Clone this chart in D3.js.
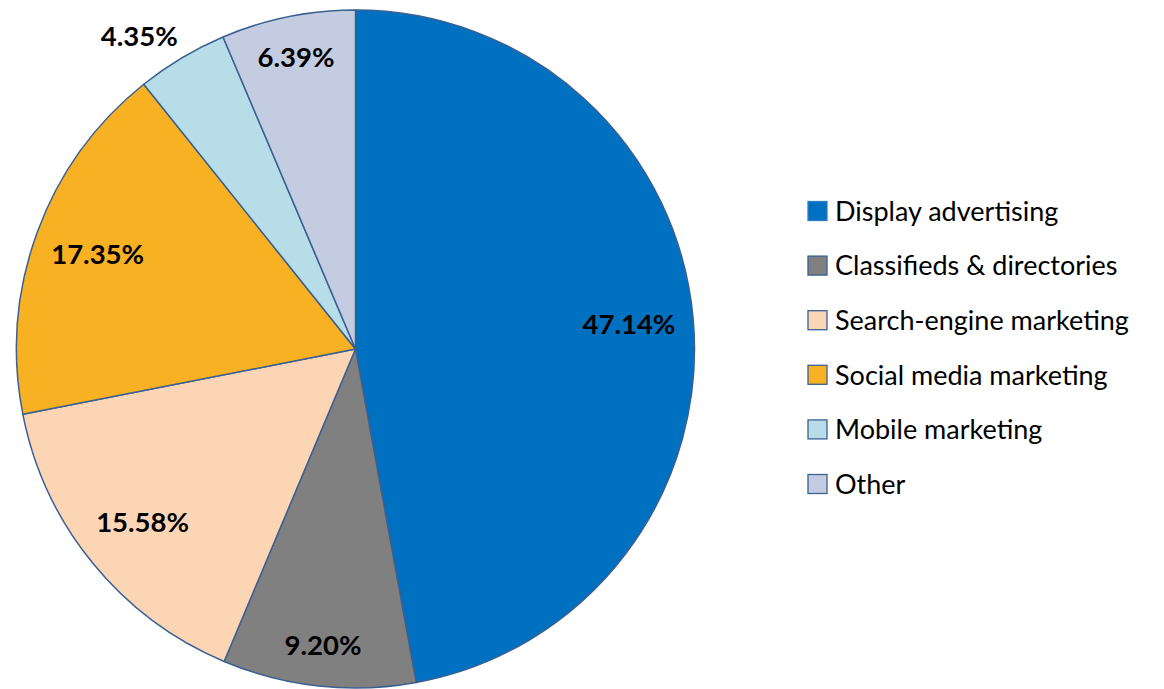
<!DOCTYPE html>
<html><head><meta charset="utf-8">
<script src="https://cdn.jsdelivr.net/npm/d3@7"></script>
<style>body{margin:0;background:#fff}svg{display:block}</style>
</head><body>
<svg id="c" width="1164" height="689"></svg>
<script>
const categories = ["Display advertising","Classifieds & directories","Search-engine marketing","Social media marketing","Mobile marketing","Other"];
const values = [47.14, 9.20, 15.58, 17.35, 4.35, 6.39];
const labels = ["47.14%","9.20%","15.58%","17.35%","4.35%","6.39%"];
const colors = ["#0070C0","#808080","#FCD5B5","#F7B123","#B7DDE8","#C3CCE1"];

const svg = d3.select("#c");
const cx = 355.5, cy = 349, R = 339;
const g = svg.append("g").attr("transform",`translate(${cx},${cy})`);
const pie = d3.pie().sort(null).value(d=>d)(values);
const arc = d3.arc().innerRadius(0).outerRadius(R);
g.selectAll("path").data(pie).join("path")
  .attr("d",arc).attr("fill",(d,i)=>colors[i])
  .attr("stroke","#3B6091").attr("stroke-width",1.5).attr("stroke-linejoin","round");

const font = "Lato, 'Open Sans', sans-serif";
function labelR(v){ return v < 10 ? R*0.88 : R*0.81; }
g.selectAll("text").data(pie).join("text")
  .each(function(d,i){
    const a=(d.startAngle+d.endAngle)/2;
    const t=d3.select(this);
    if(d.value<5){
      const r=R+8;
      t.attr("x",r*Math.sin(a)).attr("y",-r*Math.cos(a)-5).attr("text-anchor","end");
    } else {
      const r=labelR(d.value);
      t.attr("x",r*Math.sin(a)).attr("y",-r*Math.cos(a)).attr("dy","0.36em").attr("text-anchor","middle");
    }
  })
  .style("font-family",font).style("font-weight","bold").style("font-size","27.5px")
  .attr("fill","#000").text((d,i)=>labels[i]);

const lg = svg.append("g").attr("transform","translate(808,211)");
const step = 54.6;
const items = lg.selectAll("g").data(categories).join("g").attr("transform",(d,i)=>`translate(0,${i*step})`);
items.append("rect").attr("x",0).attr("y",-9.5).attr("width",19).attr("height",19)
  .attr("fill",(d,i)=>colors[i]).attr("stroke",(d,i)=>i===0?"#2E7FC8":"#3B6091").attr("stroke-width",1.3);
items.append("text").attr("x",27).attr("dy","0.36em")
  .style("font-family",font).style("font-size","27px").attr("fill","#000")
  .text(d=>d);
</script>
</body></html>
